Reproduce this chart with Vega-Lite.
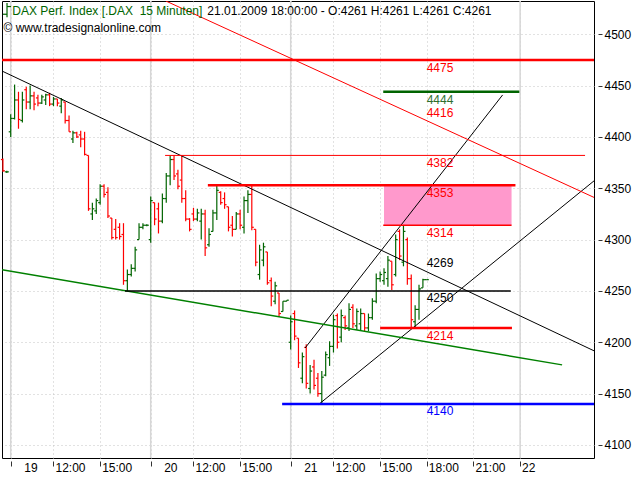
{
  "$schema": "https://vega.github.io/schema/vega-lite/v6.json",
  "width": 592,
  "height": 457,
  "autosize": {"type": "none"},
  "padding": {"left": 2, "top": 1, "right": 46, "bottom": 22},
  "background": "white",
  "config": {
    "view": {"stroke": "#000000", "strokeWidth": 1},
    "font": "Liberation Sans",
    "axis": {"labelFont": "Liberation Sans", "titleFont": "Liberation Sans"}
  },
  "datasets": {
    "bars": [
      {"u":-2,"o":4378,"h":4379,"l":4366,"c":4367},
      {"u":-1,"o":4366,"h":4367,"l":4365,"c":4366},
      {"u":0,"o":4405,"h":4422,"l":4400,"c":4418},
      {"u":1,"o":4418,"h":4451,"l":4417,"c":4436},
      {"u":2,"o":4436,"h":4444,"l":4408,"c":4417},
      {"u":3,"o":4416,"h":4444,"l":4414,"c":4436},
      {"u":4,"o":4446,"h":4449,"l":4427,"c":4434},
      {"u":5,"o":4434,"h":4450,"l":4427,"c":4440},
      {"u":6,"o":4440,"h":4444,"l":4426,"c":4432},
      {"u":7,"o":4438,"h":4441,"l":4430,"c":4433},
      {"u":8,"o":4433,"h":4441,"l":4432,"c":4439},
      {"u":9,"o":4436,"h":4442,"l":4431,"c":4441},
      {"u":10,"o":4441,"h":4443,"l":4430,"c":4432},
      {"u":11,"o":4432,"h":4439,"l":4430,"c":4437},
      {"u":12,"o":4437,"h":4437,"l":4430,"c":4433},
      {"u":13,"o":4430,"h":4438,"l":4423,"c":4436},
      {"u":14,"o":4434,"h":4434,"l":4413,"c":4416},
      {"u":15,"o":4416,"h":4421,"l":4405,"c":4405},
      {"u":16,"o":4398,"h":4406,"l":4394,"c":4404},
      {"u":17,"o":4404,"h":4405,"l":4399,"c":4400},
      {"u":18,"o":4402,"h":4406,"l":4390,"c":4398},
      {"u":19,"o":4398,"h":4405,"l":4382,"c":4383},
      {"u":20,"o":4382,"h":4382,"l":4328,"c":4330},
      {"u":21,"o":4325,"h":4336,"l":4319,"c":4330},
      {"u":22,"o":4328,"h":4340,"l":4325,"c":4338},
      {"u":23,"o":4336,"h":4354,"l":4334,"c":4352},
      {"u":24,"o":4352,"h":4354,"l":4341,"c":4344},
      {"u":25,"o":4346,"h":4351,"l":4321,"c":4323},
      {"u":26,"o":4321,"h":4321,"l":4300,"c":4302},
      {"u":27,"o":4310,"h":4320,"l":4300,"c":4302},
      {"u":28,"o":4312,"h":4316,"l":4300,"c":4303},
      {"u":29,"o":4305,"h":4316,"l":4256,"c":4260},
      {"u":30,"o":4260,"h":4271,"l":4250,"c":4266},
      {"u":31,"o":4266,"h":4276,"l":4264,"c":4272},
      {"u":32,"o":4272,"h":4293,"l":4269,"c":4290},
      {"u":33,"o":4300,"h":4316,"l":4300,"c":4312},
      {"u":34,"o":4312,"h":4316,"l":4310,"c":4314},
      {"u":35,"o":4314,"h":4315,"l":4313,"c":4314},
      {"u":36,"o":4300,"h":4342,"l":4297,"c":4338},
      {"u":37,"o":4336,"h":4336,"l":4314,"c":4320},
      {"u":38,"o":4330,"h":4336,"l":4306,"c":4318},
      {"u":39,"o":4318,"h":4345,"l":4316,"c":4340},
      {"u":40,"o":4340,"h":4365,"l":4336,"c":4362},
      {"u":41,"o":4362,"h":4382,"l":4353,"c":4378},
      {"u":42,"o":4378,"h":4382,"l":4358,"c":4362},
      {"u":43,"o":4364,"h":4368,"l":4349,"c":4352},
      {"u":44,"o":4358,"h":4382,"l":4336,"c":4340},
      {"u":45,"o":4340,"h":4348,"l":4318,"c":4320},
      {"u":46,"o":4320,"h":4321,"l":4308,"c":4310},
      {"u":47,"o":4325,"h":4331,"l":4318,"c":4320},
      {"u":48,"o":4320,"h":4330,"l":4318,"c":4326},
      {"u":49,"o":4318,"h":4330,"l":4300,"c":4325},
      {"u":50,"o":4325,"h":4329,"l":4284,"c":4292},
      {"u":51,"o":4295,"h":4311,"l":4293,"c":4305},
      {"u":52,"o":4308,"h":4329,"l":4308,"c":4326},
      {"u":53,"o":4326,"h":4353,"l":4319,"c":4348},
      {"u":54,"o":4346,"h":4347,"l":4334,"c":4336},
      {"u":55,"o":4340,"h":4346,"l":4330,"c":4334},
      {"u":56,"o":4332,"h":4332,"l":4308,"c":4312},
      {"u":57,"o":4314,"h":4323,"l":4303,"c":4310},
      {"u":58,"o":4310,"h":4327,"l":4310,"c":4325},
      {"u":59,"o":4325,"h":4329,"l":4310,"c":4314},
      {"u":60,"o":4312,"h":4342,"l":4306,"c":4338},
      {"u":61,"o":4338,"h":4348,"l":4326,"c":4344},
      {"u":62,"o":4344,"h":4353,"l":4309,"c":4312},
      {"u":63,"o":4310,"h":4310,"l":4274,"c":4278},
      {"u":64,"o":4266,"h":4295,"l":4261,"c":4290},
      {"u":65,"o":4280,"h":4297,"l":4274,"c":4293},
      {"u":66,"o":4288,"h":4288,"l":4256,"c":4258},
      {"u":67,"o":4260,"h":4263,"l":4235,"c":4245},
      {"u":68,"o":4240,"h":4259,"l":4237,"c":4255},
      {"u":69,"o":4248,"h":4248,"l":4225,"c":4228},
      {"u":70,"o":4230,"h":4240,"l":4230,"c":4240},
      {"u":71,"o":4240,"h":4241,"l":4240,"c":4241},
      {"u":72,"o":4200,"h":4226,"l":4193,"c":4220},
      {"u":73,"o":4228,"h":4231,"l":4202,"c":4206},
      {"u":74,"o":4204,"h":4204,"l":4175,"c":4180},
      {"u":75,"o":4165,"h":4190,"l":4160,"c":4186},
      {"u":76,"o":4195,"h":4198,"l":4155,"c":4160},
      {"u":77,"o":4155,"h":4178,"l":4150,"c":4172},
      {"u":78,"o":4176,"h":4183,"l":4154,"c":4158},
      {"u":79,"o":4165,"h":4170,"l":4147,"c":4150},
      {"u":80,"o":4150,"h":4172,"l":4139,"c":4166},
      {"u":81,"o":4168,"h":4191,"l":4167,"c":4188},
      {"u":82,"o":4185,"h":4201,"l":4177,"c":4196},
      {"u":83,"o":4196,"h":4227,"l":4190,"c":4222},
      {"u":84,"o":4226,"h":4228,"l":4194,"c":4200},
      {"u":85,"o":4205,"h":4232,"l":4200,"c":4226},
      {"u":86,"o":4224,"h":4226,"l":4212,"c":4216},
      {"u":87,"o":4214,"h":4238,"l":4211,"c":4232},
      {"u":88,"o":4234,"h":4237,"l":4214,"c":4218},
      {"u":89,"o":4216,"h":4233,"l":4212,"c":4230},
      {"u":90,"o":4218,"h":4233,"l":4212,"c":4228},
      {"u":91,"o":4228,"h":4228,"l":4211,"c":4214},
      {"u":92,"o":4214,"h":4228,"l":4211,"c":4224},
      {"u":93,"o":4224,"h":4243,"l":4222,"c":4240},
      {"u":94,"o":4240,"h":4267,"l":4238,"c":4262},
      {"u":95,"o":4262,"h":4269,"l":4259,"c":4266},
      {"u":96,"o":4260,"h":4272,"l":4256,"c":4268},
      {"u":97,"o":4262,"h":4284,"l":4254,"c":4280},
      {"u":98,"o":4279,"h":4279,"l":4251,"c":4256},
      {"u":99,"o":4266,"h":4305,"l":4264,"c":4300},
      {"u":100,"o":4308,"h":4310,"l":4280,"c":4284},
      {"u":101,"o":4278,"h":4314,"l":4274,"c":4308},
      {"u":102,"o":4300,"h":4302,"l":4256,"c":4262},
      {"u":103,"o":4262,"h":4266,"l":4214,"c":4222},
      {"u":104,"o":4220,"h":4236,"l":4215,"c":4232},
      {"u":105,"o":4232,"h":4256,"l":4222,"c":4252},
      {"u":106,"o":4253,"h":4262,"l":4253,"c":4261},
      {"u":107,"o":4261,"h":4261,"l":4261,"c":4261}
    ]
  },
  "layer": [
    {
      "data": {"values": [{"d": 0}, {"d": 36}, {"d": 72}, {"d": 131}]},
      "mark": {"type": "rule", "color": "#d6d6d6", "strokeWidth": 1.5},
      "encoding": {
        "x": {"field": "d", "type": "quantitative",
          "scale": {"domain": [-2.24, 150], "nice": false, "zero": false},
          "axis": {
            "orient": "bottom", "title": null,
            "values": [0, 11, 23, 36, 47, 59, 72, 83, 95, 107, 119, 131],
            "labelExpr": "['19','12:00','15:00','20','12:00','15:00','21','12:00','15:00','18:00','21:00','22'][indexof([0,11,23,36,47,59,72,83,95,107,119,131], datum.value)]",
            "domain": false, "offset": 3, "tickSize": 5, "tickColor": "#333333", "tickWidth": 1,
            "labelAlign": "left", "labelBaseline": "top", "labelPadding": -4,
            "labelOffset": {"condition": {"test": "datum.value == 0 || datum.value == 36 || datum.value == 72", "value": 13}, "value": 1.5},
            "labelFontSize": 12, "labelColor": "#000000",
            "labelFlush": false, "labelOverlap": false, "labelBound": false,
            "grid": true, "gridColor": "#c4c4c4", "gridDash": [1, 3], "gridWidth": 1
          }
        }
      }
    },
    {
      "data": {"values": [{"u1": 96, "u2": 128.8, "v1": 4314, "v2": 4353}]},
      "mark": {"type": "rect", "color": "#ff99cc"},
      "encoding": {
        "x": {"field": "u1", "type": "quantitative", "title": null, "scale": {"domain": [-2.24, 150], "nice": false, "zero": false}},
        "x2": {"field": "u2"},
        "y": {"field": "v1", "type": "quantitative",
          "scale": {"domain": [4087.3, 4532.4], "nice": false, "zero": false},
          "axis": {
            "orient": "right",
            "values": [4100, 4150, 4200, 4250, 4300, 4350, 4400, 4450, 4500],
            "format": "d", "domain": false, "offset": 4, "tickSize": 4, "tickColor": "#333333",
            "labelPadding": 2, "labelFontSize": 12, "labelColor": "#000000", "labelFlush": false,
            "grid": true, "gridColor": "#c4c4c4", "gridDash": [1, 3],
            "title": "€", "titleAngle": 0, "titleX": 2, "titleY": 9, "titleAlign": "left",
            "titleBaseline": "middle", "titleFontSize": 13, "titleFontWeight": "normal", "titleColor": "#000000"
          }
        },
        "y2": {"field": "v2"}
      }
    },
    {
      "data": {"name": "bars"},
      "mark": {"type": "rule", "strokeWidth": 1.2},
      "encoding": {
        "x": {"field": "u", "type": "quantitative", "title": null, "scale": {"domain": [-2.24, 150], "nice": false, "zero": false}},
        "y": {"field": "l", "type": "quantitative", "title": null, "scale": {"domain": [4087.3, 4532.4], "nice": false, "zero": false}},
        "y2": {"field": "h"},
        "color": {"condition": {"test": "datum.c >= datum.o", "value": "#006400"}, "value": "#ff0000"}
      }
    },
    {
      "data": {"name": "bars"},
      "mark": {"type": "rule", "strokeWidth": 1.2, "xOffset": -2, "x2Offset": 0},
      "encoding": {
        "x": {"field": "u", "type": "quantitative", "title": null, "scale": {"domain": [-2.24, 150], "nice": false, "zero": false}},
        "x2": {"field": "u"},
        "y": {"field": "o", "type": "quantitative", "title": null, "scale": {"domain": [4087.3, 4532.4], "nice": false, "zero": false}},
        "color": {"condition": {"test": "datum.c >= datum.o", "value": "#006400"}, "value": "#ff0000"}
      }
    },
    {
      "data": {"name": "bars"},
      "mark": {"type": "rule", "strokeWidth": 1.2, "xOffset": 0, "x2Offset": 2},
      "encoding": {
        "x": {"field": "u", "type": "quantitative", "title": null, "scale": {"domain": [-2.24, 150], "nice": false, "zero": false}},
        "x2": {"field": "u"},
        "y": {"field": "c", "type": "quantitative", "title": null, "scale": {"domain": [4087.3, 4532.4], "nice": false, "zero": false}},
        "color": {"condition": {"test": "datum.c >= datum.o", "value": "#006400"}, "value": "#ff0000"}
      }
    },
    {
      "data": {"values": [
        {"u1": -2.24, "u2": 150, "v1": 4464.2, "v2": 4191.7},
        {"u1": 75.7, "u2": 126.5, "v1": 4194.4, "v2": 4440.9},
        {"u1": 79.1, "u2": 150, "v1": 4139.2, "v2": 4357.2}
      ]},
      "mark": {"type": "rule", "color": "#000000", "strokeWidth": 1, "clip": true},
      "encoding": {
        "x": {"field": "u1", "type": "quantitative", "title": null, "scale": {"domain": [-2.24, 150], "nice": false, "zero": false}},
        "x2": {"field": "u2"},
        "y": {"field": "v1", "type": "quantitative", "title": null, "scale": {"domain": [4087.3, 4532.4], "nice": false, "zero": false}},
        "y2": {"field": "v2"}
      }
    },
    {
      "data": {"values": [{"u1": 39.9, "u2": 150, "v1": 4532.4, "v2": 4341.1}]},
      "mark": {"type": "rule", "color": "#ff0000", "strokeWidth": 1, "clip": true},
      "encoding": {
        "x": {"field": "u1", "type": "quantitative", "title": null, "scale": {"domain": [-2.24, 150], "nice": false, "zero": false}},
        "x2": {"field": "u2"},
        "y": {"field": "v1", "type": "quantitative", "title": null, "scale": {"domain": [4087.3, 4532.4], "nice": false, "zero": false}},
        "y2": {"field": "v2"}
      }
    },
    {
      "data": {"values": [{"u1": -2.24, "u2": 141.8, "v1": 4270.6, "v2": 4178}]},
      "mark": {"type": "rule", "color": "#008000", "strokeWidth": 1.5, "clip": true},
      "encoding": {
        "x": {"field": "u1", "type": "quantitative", "title": null, "scale": {"domain": [-2.24, 150], "nice": false, "zero": false}},
        "x2": {"field": "u2"},
        "y": {"field": "v1", "type": "quantitative", "title": null, "scale": {"domain": [4087.3, 4532.4], "nice": false, "zero": false}},
        "y2": {"field": "v2"}
      }
    },
    {
      "data": {"values": [{"u1": 29.4, "u2": 128.6, "v": 4250}]},
      "mark": {"type": "rule", "color": "#000000", "strokeWidth": 1.5},
      "encoding": {
        "x": {"field": "u1", "type": "quantitative", "title": null, "scale": {"domain": [-2.24, 150], "nice": false, "zero": false}},
        "x2": {"field": "u2"},
        "y": {"field": "v", "type": "quantitative", "title": null, "scale": {"domain": [4087.3, 4532.4], "nice": false, "zero": false}}
      }
    },
    {
      "data": {"values": [{"u1": 39.7, "u2": 147.7, "v": 4382}]},
      "mark": {"type": "rule", "color": "#ff0000", "strokeWidth": 1},
      "encoding": {
        "x": {"field": "u1", "type": "quantitative", "title": null, "scale": {"domain": [-2.24, 150], "nice": false, "zero": false}},
        "x2": {"field": "u2"},
        "y": {"field": "v", "type": "quantitative", "title": null, "scale": {"domain": [4087.3, 4532.4], "nice": false, "zero": false}}
      }
    },
    {
      "data": {"values": [{"u1": 95.8, "u2": 128.8, "v": 4314}]},
      "mark": {"type": "rule", "color": "#ff0000", "strokeWidth": 1.6},
      "encoding": {
        "x": {"field": "u1", "type": "quantitative", "title": null, "scale": {"domain": [-2.24, 150], "nice": false, "zero": false}},
        "x2": {"field": "u2"},
        "y": {"field": "v", "type": "quantitative", "title": null, "scale": {"domain": [4087.3, 4532.4], "nice": false, "zero": false}}
      }
    },
    {
      "data": {"values": [
        {"u1": -2.24, "u2": 150, "v": 4475},
        {"u1": 50.7, "u2": 129.8, "v": 4353},
        {"u1": 95, "u2": 128.9, "v": 4214}
      ]},
      "mark": {"type": "rule", "color": "#ff0000", "strokeWidth": 2.5},
      "encoding": {
        "x": {"field": "u1", "type": "quantitative", "title": null, "scale": {"domain": [-2.24, 150], "nice": false, "zero": false}},
        "x2": {"field": "u2"},
        "y": {"field": "v", "type": "quantitative", "title": null, "scale": {"domain": [4087.3, 4532.4], "nice": false, "zero": false}}
      }
    },
    {
      "data": {"values": [{"u1": 95.8, "u2": 130.8, "v": 4444}]},
      "mark": {"type": "rule", "color": "#006400", "strokeWidth": 2.5},
      "encoding": {
        "x": {"field": "u1", "type": "quantitative", "title": null, "scale": {"domain": [-2.24, 150], "nice": false, "zero": false}},
        "x2": {"field": "u2"},
        "y": {"field": "v", "type": "quantitative", "title": null, "scale": {"domain": [4087.3, 4532.4], "nice": false, "zero": false}}
      }
    },
    {
      "data": {"values": [{"u1": 69.8, "u2": 150, "v": 4140}]},
      "mark": {"type": "rule", "color": "#0000ff", "strokeWidth": 2.5},
      "encoding": {
        "x": {"field": "u1", "type": "quantitative", "title": null, "scale": {"domain": [-2.24, 150], "nice": false, "zero": false}},
        "x2": {"field": "u2"},
        "y": {"field": "v", "type": "quantitative", "title": null, "scale": {"domain": [4087.3, 4532.4], "nice": false, "zero": false}}
      }
    },
    {
      "data": {"values": [{"v": 4475}, {"v": 4382}, {"v": 4353}, {"v": 4314}, {"v": 4214}]},
      "mark": {"type": "text", "color": "#ff0000", "fontSize": 12, "align": "center", "baseline": "middle", "dy": 8},
      "encoding": {
        "x": {"datum": 110.4, "type": "quantitative", "title": null, "scale": {"domain": [-2.24, 150], "nice": false, "zero": false}},
        "y": {"field": "v", "type": "quantitative", "title": null, "scale": {"domain": [4087.3, 4532.4], "nice": false, "zero": false}},
        "text": {"field": "v", "type": "quantitative", "format": "d"}
      }
    },
    {
      "data": {"values": [{"v": 4416}]},
      "mark": {"type": "text", "color": "#ff0000", "fontSize": 12, "align": "center", "baseline": "middle", "dy": -8},
      "encoding": {
        "x": {"datum": 110.4, "type": "quantitative", "title": null, "scale": {"domain": [-2.24, 150], "nice": false, "zero": false}},
        "y": {"field": "v", "type": "quantitative", "title": null, "scale": {"domain": [4087.3, 4532.4], "nice": false, "zero": false}},
        "text": {"field": "v", "type": "quantitative", "format": "d"}
      }
    },
    {
      "data": {"values": [{"v": 4444}]},
      "mark": {"type": "text", "color": "#2f6f2f", "fontSize": 12, "align": "center", "baseline": "middle", "dy": 8},
      "encoding": {
        "x": {"datum": 110.4, "type": "quantitative", "title": null, "scale": {"domain": [-2.24, 150], "nice": false, "zero": false}},
        "y": {"field": "v", "type": "quantitative", "title": null, "scale": {"domain": [4087.3, 4532.4], "nice": false, "zero": false}},
        "text": {"field": "v", "type": "quantitative", "format": "d"}
      }
    },
    {
      "data": {"values": [{"v": 4250}]},
      "mark": {"type": "text", "color": "#000000", "fontSize": 12, "align": "center", "baseline": "middle", "dy": 7},
      "encoding": {
        "x": {"datum": 110.4, "type": "quantitative", "title": null, "scale": {"domain": [-2.24, 150], "nice": false, "zero": false}},
        "y": {"field": "v", "type": "quantitative", "title": null, "scale": {"domain": [4087.3, 4532.4], "nice": false, "zero": false}},
        "text": {"field": "v", "type": "quantitative", "format": "d"}
      }
    },
    {
      "data": {"values": [{"v": 4269}]},
      "mark": {"type": "text", "color": "#000000", "fontSize": 12, "align": "center", "baseline": "middle", "dy": -8},
      "encoding": {
        "x": {"datum": 110.4, "type": "quantitative", "title": null, "scale": {"domain": [-2.24, 150], "nice": false, "zero": false}},
        "y": {"field": "v", "type": "quantitative", "title": null, "scale": {"domain": [4087.3, 4532.4], "nice": false, "zero": false}},
        "text": {"field": "v", "type": "quantitative", "format": "d"}
      }
    },
    {
      "data": {"values": [{"v": 4140}]},
      "mark": {"type": "text", "color": "#0000ff", "fontSize": 12, "align": "center", "baseline": "middle", "dy": 7},
      "encoding": {
        "x": {"datum": 110.4, "type": "quantitative", "title": null, "scale": {"domain": [-2.24, 150], "nice": false, "zero": false}},
        "y": {"field": "v", "type": "quantitative", "title": null, "scale": {"domain": [4087.3, 4532.4], "nice": false, "zero": false}},
        "text": {"field": "v", "type": "quantitative", "format": "d"}
      }
    },
    {
      "data": {"values": [{"u": -0.95, "l": 4516.5, "h": 4530.5}]},
      "mark": {"type": "rule", "color": "#006400", "strokeWidth": 1.2},
      "encoding": {
        "x": {"field": "u", "type": "quantitative", "title": null, "scale": {"domain": [-2.24, 150], "nice": false, "zero": false}},
        "y": {"field": "l", "type": "quantitative", "title": null, "scale": {"domain": [4087.3, 4532.4], "nice": false, "zero": false}},
        "y2": {"field": "h"}
      }
    },
    {
      "data": {"values": [{"u": -0.95, "o": 4519.5}]},
      "mark": {"type": "rule", "color": "#006400", "strokeWidth": 1.2, "xOffset": -4, "x2Offset": 0},
      "encoding": {
        "x": {"field": "u", "type": "quantitative", "title": null, "scale": {"domain": [-2.24, 150], "nice": false, "zero": false}},
        "x2": {"field": "u"},
        "y": {"field": "o", "type": "quantitative", "title": null, "scale": {"domain": [4087.3, 4532.4], "nice": false, "zero": false}}
      }
    },
    {
      "data": {"values": [{"u": -0.95, "c": 4527}]},
      "mark": {"type": "rule", "color": "#006400", "strokeWidth": 1.2, "xOffset": 0, "x2Offset": 4},
      "encoding": {
        "x": {"field": "u", "type": "quantitative", "title": null, "scale": {"domain": [-2.24, 150], "nice": false, "zero": false}},
        "x2": {"field": "u"},
        "y": {"field": "c", "type": "quantitative", "title": null, "scale": {"domain": [4087.3, 4532.4], "nice": false, "zero": false}}
      }
    },
    {
      "data": {"values": [{"t": "DAX Perf. Index [.DAX\u00a0 15 Minuten]"}]},
      "mark": {"type": "text", "color": "#006400", "fontSize": 12, "align": "left", "baseline": "middle"},
      "encoding": {
        "x": {"datum": 0.4, "type": "quantitative", "title": null, "scale": {"domain": [-2.24, 150], "nice": false, "zero": false}},
        "y": {"datum": 4522.7, "type": "quantitative", "title": null, "scale": {"domain": [4087.3, 4532.4], "nice": false, "zero": false}},
        "text": {"field": "t"}
      }
    },
    {
      "data": {"values": [{"t": "21.01.2009 18:00:00 - O:4261 H:4261 L:4261 C:4261"}]},
      "mark": {"type": "text", "color": "#000000", "fontSize": 12, "align": "left", "baseline": "middle"},
      "encoding": {
        "x": {"datum": 50.55, "type": "quantitative", "title": null, "scale": {"domain": [-2.24, 150], "nice": false, "zero": false}},
        "y": {"datum": 4522.7, "type": "quantitative", "title": null, "scale": {"domain": [4087.3, 4532.4], "nice": false, "zero": false}},
        "text": {"field": "t"}
      }
    },
    {
      "data": {"values": [{"t": "© www.tradesignalonline.com"}]},
      "mark": {"type": "text", "color": "#000000", "fontSize": 12, "align": "left", "baseline": "middle"},
      "encoding": {
        "x": {"datum": -1.85, "type": "quantitative", "title": null, "scale": {"domain": [-2.24, 150], "nice": false, "zero": false}},
        "y": {"datum": 4505.8, "type": "quantitative", "title": null, "scale": {"domain": [4087.3, 4532.4], "nice": false, "zero": false}},
        "text": {"field": "t"}
      }
    }
  ]
}
